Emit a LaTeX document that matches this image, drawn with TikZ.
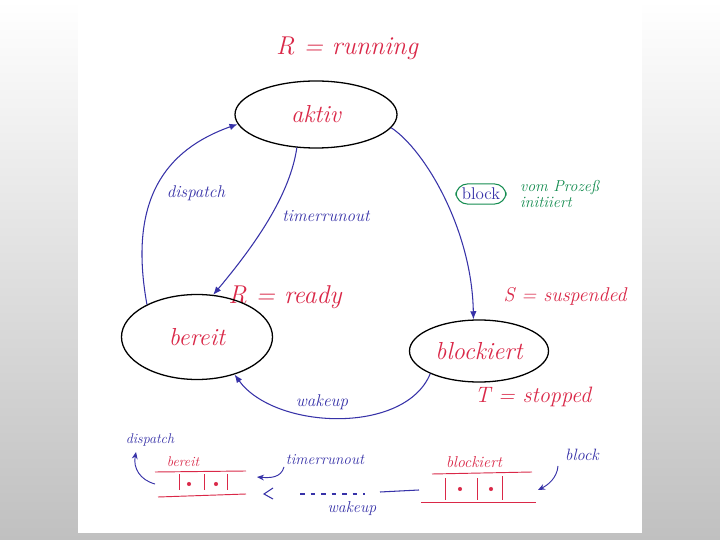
\documentclass[tikz,border=0pt]{standalone}
\usetikzlibrary{arrows.meta,shapes.geometric}
\definecolor{hred}{RGB}{218,40,72}
\definecolor{hblue}{RGB}{55,50,168}
\definecolor{hgreen}{RGB}{20,140,80}
\definecolor{bggray}{RGB}{192,192,192}
\begin{document}
\begin{tikzpicture}[x=0.03cm,y=-0.03cm,
  state/.style={draw=black, line width=1.1pt, ellipse, inner sep=0pt, text=hred,
    font=\fontsize{21}{24}\selectfont\itshape},
  conn/.style={draw=hblue, line width=0.9pt, -{Latex[length=7pt,width=5.5pt]}},
  bigred/.style={text=hred, font=\fontsize{22}{26}\selectfont\itshape},
  midred/.style={text=hred, font=\fontsize{17}{20}\selectfont\itshape},
  bluelab/.style={text=hblue, font=\fontsize{14.5}{17}\selectfont\itshape},
  smallblue/.style={text=hblue, font=\fontsize{12}{14}\selectfont\itshape},
  smallred/.style={text=hred, font=\fontsize{12}{14}\selectfont\itshape},
  greenlab/.style={text=hgreen, font=\fontsize{13.5}{14}\selectfont\itshape},
  qline/.style={draw=hred, line width=0.8pt},
  qdot/.style={fill=hred, circle, inner sep=0pt, minimum size=3.5pt},
  smallarrow/.style={draw=hblue, line width=0.8pt, -{Stealth[length=6pt,width=5pt]}}
]
\useasboundingbox (0,0) rectangle (720,540);
\shade[top color=white, bottom color=bggray] (0,0) rectangle (720,540);
\fill[white] (78,0) rectangle (642,533);

% title labels
\node[bigred] (trun) at (347,48) {R = running};
\node[bigred] (trdy) at (285,297) {R = ready};
\node[midred] (tsus) at (565,296) {S = suspended};
\node[midred, font=\fontsize{19}{22}\selectfont\itshape] (tstop) at (533,397) {T = stopped};

% states
\node[state, minimum width=4.86cm, minimum height=2.01cm] (aktiv) at (316,114.5) {aktiv\hspace{17pt}};
\node[state, minimum width=4.53cm, minimum height=2.55cm] (bereit) at (197,337) {bereit\hspace{25pt}};
\node[state, minimum width=4.17cm, minimum height=1.86cm] (blockiert) at (479,351) {blockiert\hspace{8pt}};

% transitions
\draw[conn] (bereit.147) .. controls (128,200) and (165,150) .. (aktiv.187);
\draw[conn] (aktiv.240) .. controls (290,195) and (255,245) .. (bereit.69);
\draw[conn] (aktiv.350) .. controls (425,150) and (472,230) .. (blockiert.100);
\draw[conn] (blockiert.205) .. controls (405,435) and (275,430) .. (bereit.315);

% transition labels
\node[bluelab] (ldisp) at (196,193) {dispatch};
\node[bluelab] (ltimer) at (326,216) {timerrunout};
\node[bluelab] (lwake) at (322,402) {wakeup};
\node[draw=hgreen, line width=0.9pt, rounded corners=10pt, text=hblue,
  font=\fontsize{14.5}{17}\selectfont, inner xsep=5pt, inner ysep=3.5pt] (lblock) at (481,194) {block};
\node[greenlab, anchor=west, align=left] (lvom) at (516,194) {vom Prozeß\\initiiert};

% bottom: bereit queue
\node[smallblue] (qdisp) at (150,440) {dispatch};
\node[smallred] (qbereit) at (183,462) {bereit};
\draw[qline] (155,472) -- (246,471);
\draw[qline] (158,497) -- (246,494);
\draw[qline] (179,474) -- (179,490);
\draw[qline] (204,474) -- (204,490);
\draw[qline] (227,474) -- (227,490);
\node[qdot] (bd1) at (189,484) {};
\node[qdot] (bd2) at (216,484) {};
\coordinate (qbs) at (155,484);
\coordinate (qbe) at (136,452);
\draw[smallarrow] (qbs) .. controls (140,480) and (133,468) .. (qbe);

\node[smallblue, font=\fontsize{13}{15}\selectfont\itshape] (qtimer) at (325,460) {timerrunout};
\coordinate (qts) at (284,467);
\coordinate (qte) at (257,477);
\draw[smallarrow] (qts) .. controls (281,478) and (270,478) .. (qte);

\coordinate (lt1) at (273,488);
\coordinate (lt2) at (264,494);
\coordinate (lt3) at (273,499);
\draw[draw=hblue, line width=0.9pt] (lt1) -- (lt2) -- (lt3);
\coordinate (dsh1) at (300,494);
\coordinate (dsh2) at (365,494);
\draw[draw=hblue, line width=0.9pt, dash pattern=on 4pt off 5pt] (dsh1) -- (dsh2);
\coordinate (sol1) at (380,492);
\coordinate (sol2) at (419,490);
\draw[draw=hblue, line width=0.9pt] (sol1) -- (sol2);
\node[smallblue, font=\fontsize{13.5}{15}\selectfont\itshape] (qwake) at (352,509) {wakeup};

% bottom: blockiert queue
\node[smallred, font=\fontsize{13.5}{15}\selectfont\itshape] (qblk) at (474,462) {blockiert};
\draw[qline] (432,474) -- (532,472);
\draw[qline] (421,502) -- (536,502);
\draw[qline] (445,478) -- (445,500);
\draw[qline] (477,478) -- (477,500);
\draw[qline] (502,476) -- (502,500);
\node[qdot] (kd1) at (460,489) {};
\node[qdot] (kd2) at (491,489) {};
\node[smallblue, font=\fontsize{14}{16}\selectfont\itshape] (qblock) at (582,455) {block};
\coordinate (qks) at (558,466);
\coordinate (qke) at (538,490);
\draw[smallarrow] (qks) .. controls (557,478) and (548,485) .. (qke);
\end{tikzpicture}
\end{document}
